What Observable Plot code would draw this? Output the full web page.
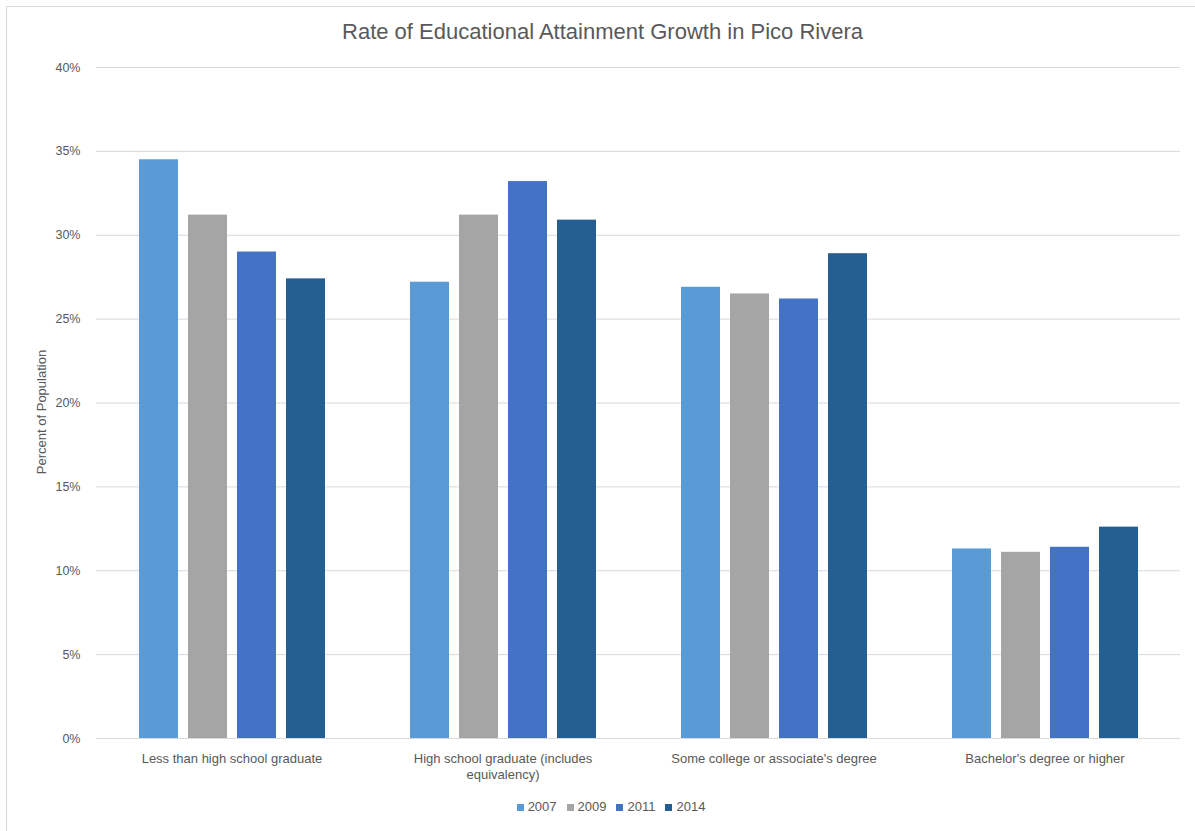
<!DOCTYPE html>
<html>
<head>
<meta charset="utf-8">
<script src="https://cdn.jsdelivr.net/npm/d3@7"></script>
<script src="https://cdn.jsdelivr.net/npm/@observablehq/plot@0.6"></script>
<style>
  html, body { margin: 0; padding: 0; background: #fff; }
  body { width: 1195px; height: 831px; position: relative; overflow: hidden;
         font-family: "Liberation Sans", Arial, sans-serif; color: #595959; }
  #frame { position: absolute; left: 6px; top: 6px; width: 1189px; height: 825px;
           border-top: 1px solid #d9d9d9; border-left: 1px solid #d9d9d9; }
  #title { position: absolute; left: 0; top: 19px; width: 1205px; text-align: center;
           font-size: 22px; color: #595959; }
  #chart { position: absolute; left: 0; top: 50px; }
  #ylabel { position: absolute; left: 41px; top: 412px; transform: translate(-50%, -50%) rotate(-90deg);
            font-size: 13px; white-space: nowrap; color: #595959; }
  #legend { position: absolute; left: 0; top: 799px; width: 1222px; text-align: center; font-size: 13px; }
  #legend span.item { margin: 0 5px; white-space: nowrap; }
  #legend span.sw { display: inline-block; width: 7px; height: 7px; margin-right: 4px; vertical-align: 0px; }
</style>
</head>
<body>
<div id="frame"></div>
<div id="title">Rate of Educational Attainment Growth in Pico Rivera</div>
<div id="chart"></div>
<div id="ylabel">Percent of Population</div>
<div id="legend"></div>
<script>
const categories = [
  "Less than high school graduate",
  "High school graduate (includes equivalency)",
  "Some college or associate's degree",
  "Bachelor's degree or higher"
];
const categoryLabels = [
  "Less than high school graduate",
  "High school graduate (includes\nequivalency)",
  "Some college or associate's degree",
  "Bachelor's degree or higher"
];
const years = ["2007", "2009", "2011", "2014"];
const colors = ["#5b9bd5", "#a5a5a5", "#4472c4", "#255e91"];
const values2007 = [34.5, 27.2, 26.9, 11.3];
const values2009 = [31.2, 31.2, 26.5, 11.1];
const values2011 = [29.0, 33.2, 26.2, 11.4];
const values2014 = [27.4, 30.9, 28.9, 12.6];
const yTicks = [0, 5, 10, 15, 20, 25, 30, 35, 40];

const series = [values2007, values2009, values2011, values2014];
const data = [];
categories.forEach((c, i) => {
  years.forEach((y, j) => data.push({category: c, year: y, value: series[j][i]}));
});

const chart = Plot.plot({
  width: 1195,
  height: 738,
  marginTop: 17,
  marginLeft: 95,
  marginRight: 15,
  marginBottom: 50,
  style: {fontFamily: "Liberation Sans, Arial, sans-serif", fontSize: "12px", color: "#595959", background: "transparent"},
  fx: {domain: categories, padding: 0},
  x: {domain: years, paddingInner: 0.21, paddingOuter: 0.867, axis: null},
  y: {domain: [0, 40]},
  color: {domain: years, range: colors},
  marks: [
    Plot.gridY(yTicks.filter(t => t > 0), {stroke: "#d9d9d9", strokeOpacity: 1, strokeWidth: 1}),
    Plot.barY(data, {fx: "category", x: "year", y: "value", fill: "year"}),
    Plot.ruleY([0], {stroke: "#d9d9d9", strokeWidth: 1}),
    Plot.axisY(yTicks, {tickSize: 0, tickPadding: 16, tickFormat: d => d + "%", label: null, fontSize: 12.5}),
    Plot.axisFx({anchor: "bottom", tickSize: 0, tickPadding: 12, label: null, lineHeight: 1.3, fontSize: 13,
      tickFormat: d => categoryLabels[categories.indexOf(d)]})
  ]
});
document.getElementById("chart").appendChild(chart);

const legend = document.getElementById("legend");
years.forEach((y, i) => {
  const item = document.createElement("span");
  item.className = "item";
  const sw = document.createElement("span");
  sw.className = "sw";
  sw.style.background = colors[i];
  item.appendChild(sw);
  item.appendChild(document.createTextNode(y));
  legend.appendChild(item);
});
</script>
</body>
</html>
